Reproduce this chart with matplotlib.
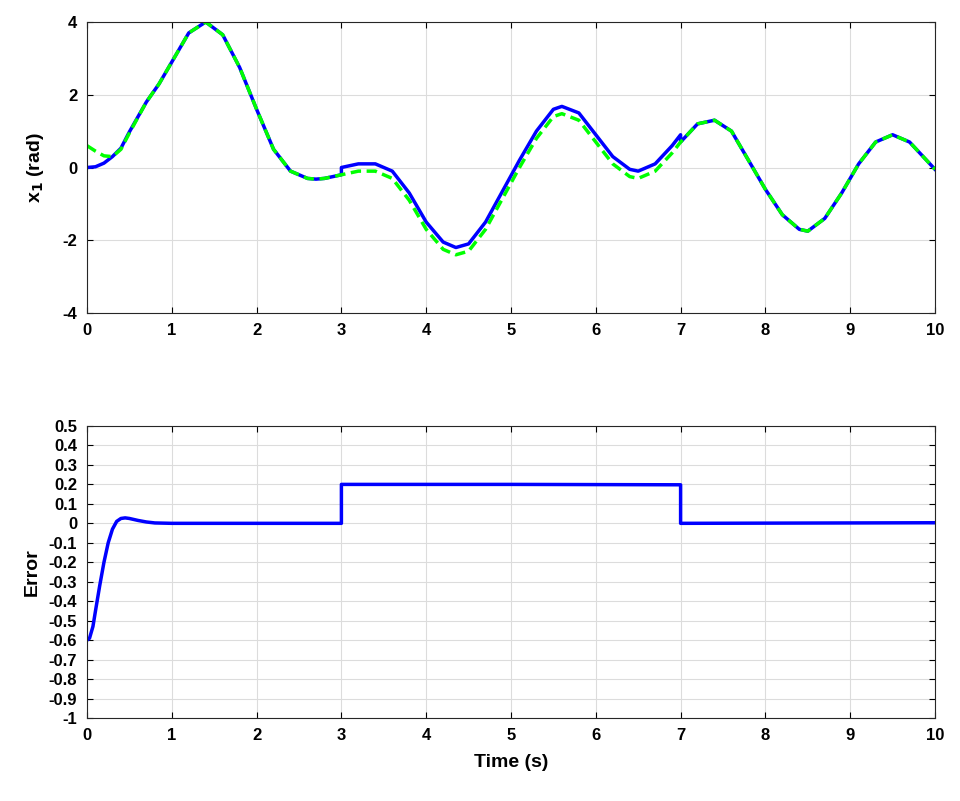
import matplotlib
matplotlib.use("Agg")
import matplotlib.pyplot as plt
import numpy as np

t_ref = [0,0.1,0.2,0.3,0.4,0.5,0.7,0.85,1.0,1.2,1.4,1.6,1.8,2.0,2.2,2.4,2.6,2.7,2.8,3.0,3.2,3.4,3.6,3.8,4.0,4.2,4.35,4.5,4.7,4.9,5.1,5.3,5.5,5.6,5.8,6.0,6.2,6.4,6.5,6.7,6.9,7.0,7.2,7.4,7.6,7.8,8.0,8.2,8.4,8.5,8.7,8.9,9.1,9.3,9.5,9.7,9.9,10.0]
x_ref = [0.6,0.45,0.32,0.3,0.5,0.95,1.8,2.3,2.9,3.7,4.0,3.65,2.75,1.6,0.5,-0.1,-0.3,-0.32,-0.3,-0.2,-0.1,-0.1,-0.3,-0.9,-1.7,-2.25,-2.4,-2.3,-1.7,-0.85,0.0,0.8,1.4,1.48,1.3,0.7,0.1,-0.25,-0.3,-0.1,0.4,0.7,1.2,1.3,1.0,0.2,-0.6,-1.3,-1.7,-1.75,-1.4,-0.7,0.1,0.7,0.9,0.7,0.2,-0.05]

t_act = [0,0.1,0.2,0.3,0.4,0.5,0.7,0.85,1.0,1.2,1.4,1.6,1.8,2.0,2.2,2.4,2.6,2.7,2.8,3.0,3.0,3.2,3.4,3.6,3.8,4.0,4.2,4.35,4.5,4.7,4.9,5.1,5.3,5.5,5.6,5.8,6.0,6.2,6.4,6.5,6.7,6.9,7.0,7.0,7.2,7.4,7.6,7.8,8.0,8.2,8.4,8.5,8.7,8.9,9.1,9.3,9.5,9.7,9.9,10.0]
x_act = [0.0,0.02,0.12,0.3,0.53,0.98,1.8,2.3,2.9,3.7,4.0,3.65,2.75,1.6,0.5,-0.1,-0.3,-0.32,-0.3,-0.2,0.0,0.1,0.1,-0.1,-0.7,-1.5,-2.05,-2.2,-2.1,-1.5,-0.65,0.2,1.0,1.6,1.68,1.5,0.9,0.3,-0.05,-0.1,0.1,0.6,0.9,0.7,1.2,1.3,1.0,0.2,-0.6,-1.3,-1.7,-1.75,-1.4,-0.7,0.1,0.7,0.9,0.7,0.2,-0.05]

t_err = [0,0.03,0.07,0.1,0.15,0.2,0.25,0.3,0.35,0.4,0.45,0.5,0.6,0.7,0.8,1.0,3.0,3.0,5.0,7.0,7.0,10.0]
err = [-0.6,-0.59,-0.53,-0.45,-0.32,-0.2,-0.1,-0.03,0.01,0.025,0.028,0.025,0.015,0.007,0.002,0.0,0.0,0.2,0.2,0.198,0.0,0.003]

plt.rcParams['font.family'] = ['Liberation Sans', 'DejaVu Sans']
plt.rcParams['font.weight'] = 'bold'
plt.rcParams['axes.unicode_minus'] = False
fig = plt.figure(figsize=(9.6, 8.01), dpi=100)
ax1 = fig.add_axes([87/960, 1-313/801, 848/960, 291/801])
ax2 = fig.add_axes([87/960, 1-718/801, 848/960, 292/801])

ax1.plot(t_act, x_act, color='#0000ff', lw=2.5, solid_joinstyle='round')
ax1.plot(t_ref, x_ref, color='#00ff00', lw=2.5, ls=(0, (3, 1.6)))
ax1.set_xlim(0, 10); ax1.set_ylim(-4, 4)
ax1.set_yticks([-4,-2,0,2,4]); ax1.set_xticks(range(11))
ax1.set_ylabel('x$_\\mathbf{1}$ (rad)', fontsize=14, fontweight='bold', labelpad=12)

ax2.plot(t_err, err, color='#0000ff', lw=2.5)
ax2.set_xlim(0, 10); ax2.set_ylim(-1, 0.5)
yt = np.round(np.arange(-1, 0.51, 0.1), 1)
ax2.set_yticks(yt)
ax2.set_yticklabels([('%g' % v) if v != 0 else '0' for v in yt])
ax2.set_xticks(range(11))
ax2.set_ylabel('Error', fontsize=14, fontweight='bold', labelpad=6)
ax2.set_xlabel('Time (s)', fontsize=14, fontweight='bold', labelpad=8)

for ax in (ax1, ax2):
    ax.grid(True, color='#dcdcdc', lw=0.8)
    ax.set_axisbelow(True)
    ax.tick_params(labelsize=12, direction='in', length=4, top=True, right=True, pad=7)
    for lab in ax.get_xticklabels() + ax.get_yticklabels():
        lab.set_fontweight('bold')
    for s in ax.spines.values():
        s.set_color('#262626'); s.set_linewidth(0.8)

fig.savefig('out.png', dpi=100)
